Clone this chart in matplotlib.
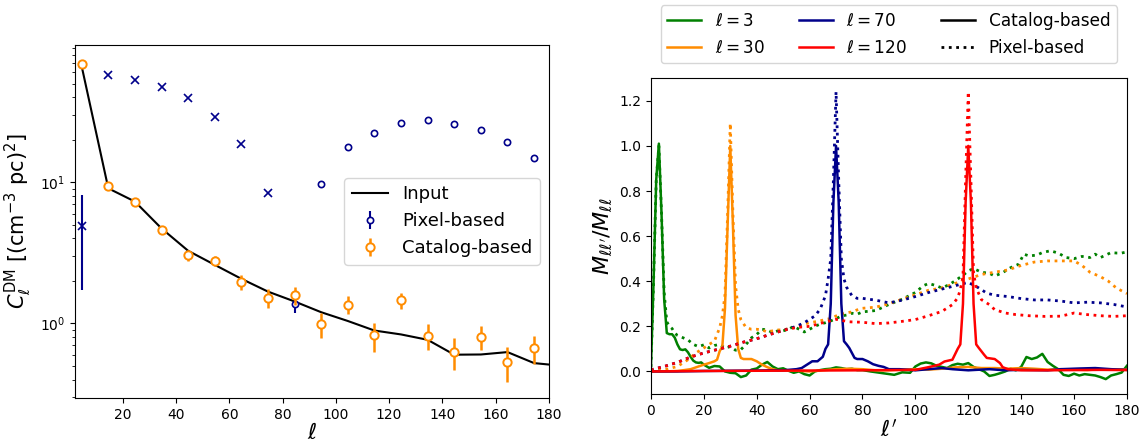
import matplotlib
matplotlib.use("Agg")
import matplotlib.pyplot as plt
from matplotlib.lines import Line2D
import numpy as np

# ---- left panel: angular power spectrum ----
ell_bins = [4.5, 14.5, 24.5, 34.5, 44.5, 54.5, 64.5, 74.5, 84.5, 94.5,
            104.5, 114.5, 124.5, 134.5, 144.5, 154.5, 164.5, 174.5]

input_ell = ell_bins + [180]
input_cl = [66.4, 9.06, 7.3, 4.71, 3.27, 2.6, 2.07, 1.68, 1.43, 1.20,
            1.04, 0.89, 0.835, 0.765, 0.60, 0.602, 0.626, 0.523, 0.511]

# negative values of the pixel-based estimate are drawn as crosses
pix_cl = [-4.92, -57.9, -53.1, -47.1, -39.3, -28.8, -18.6, -8.35, 1.38, 9.78,
          17.7, 22.4, 26.3, 27.7, 26.1, 23.3, 19.4, 14.9]
pix_err = [3.2, 0.5, 0.5, 0.5, 0.4, 0.3, 0.2, 0.1, 0.2, 0.1,
           0.2, 0.2, 0.3, 0.3, 0.3, 0.3, 0.2, 0.2]

cat_cl = [69.4, 9.47, 7.2, 4.61, 3.03, 2.79, 1.97, 1.52, 1.59, 0.984,
          1.36, 0.822, 1.457, 0.813, 0.626, 0.80, 0.534, 0.668]
cat_err = [0.5, 0.3, 0.3, 0.3, 0.26, 0.23, 0.25, 0.24, 0.23, 0.2,
           0.2, 0.19, 0.19, 0.17, 0.16, 0.155, 0.15, 0.15]

# ---- right panel: mixing-matrix rows ----
g_cat_x = [0, 1, 2, 3, 4, 5, 6, 7, 8, 9, 10, 11, 12, 13, 14, 15, 16, 17, 18, 19, 20,
           22, 24, 26, 28, 30, 32, 34, 36, 38, 40, 42, 44, 46, 48, 50, 52, 54, 56, 58,
           60, 62, 64, 66, 68, 70, 72, 74, 76, 78, 80, 83, 86, 89, 92, 95, 98, 100,
           102, 104, 106, 108, 110, 112, 114, 116, 118, 120, 122, 124, 126, 128, 130,
           132, 134, 136, 138, 140, 142, 144, 146, 148, 150, 152, 154, 156, 158, 160,
           162, 164, 166, 168, 170, 172, 174, 176, 178, 180]
g_cat_y = [0.02, 0.4, 0.85, 1.01, 0.7, 0.32, 0.17, 0.165, 0.165, 0.15, 0.12, 0.098,
           0.095, 0.098, 0.085, 0.065, 0.048, 0.04, 0.038, 0.04, 0.03,
           0.016, 0.024, 0.022, 0.0, -0.006, -0.008, -0.025, -0.018, 0.008, 0.013,
           0.03, 0.042, 0.022, 0.01, 0.014, 0.003, -0.006, 0.0, -0.012,
           -0.018, 0.0, 0.006, 0.01, 0.012, 0.018, 0.015, 0.01, 0.012, 0.006, 0.006,
           0.0, -0.005, -0.01, -0.015, -0.004, -0.006, 0.022,
           0.035, 0.04, 0.036, 0.025, 0.02, 0.015, 0.028, 0.034, 0.03, 0.037, 0.02,
           0.01, 0.0, -0.02, -0.015,
           -0.008, 0.0, 0.012, 0.005, 0.02, 0.064, 0.055, 0.062, 0.078, 0.042, 0.025,
           0.01, -0.015, -0.02, -0.01,
           -0.018, -0.012, -0.015, -0.018, -0.025, -0.034, -0.018, -0.012, -0.005, 0.025]

g_pix_x = [0, 1, 2, 3, 4, 5, 6, 7, 8, 9, 10, 12, 14, 16, 18, 20, 22, 24, 26, 28, 30,
           32, 34, 36, 38, 40, 42, 44, 46, 48, 50, 52, 54, 56, 58, 60, 62, 64, 66, 68,
           70, 72, 74, 76, 78, 80, 85, 90, 95, 100, 103, 105, 108, 110, 113, 116, 118,
           120, 122, 125, 128, 130, 133, 136, 139, 141, 143, 146, 148, 151, 154, 157,
           160, 163, 166, 168, 170, 172, 174, 176, 178, 180]
g_pix_y = [0.02, 0.4, 0.85, 1.0, 0.7, 0.35, 0.22, 0.2, 0.19, 0.17, 0.16, 0.15, 0.14,
           0.12, 0.11, 0.118, 0.104, 0.115, 0.12, 0.104, 0.11,
           0.094, 0.097, 0.12, 0.149, 0.164, 0.187, 0.184, 0.172, 0.18, 0.18, 0.187,
           0.2, 0.187, 0.175, 0.187, 0.2, 0.21, 0.216, 0.224,
           0.234, 0.246, 0.25, 0.258, 0.254, 0.264, 0.27, 0.297, 0.32, 0.35, 0.38, 0.39,
           0.38, 0.37, 0.386, 0.41, 0.426,
           0.446, 0.456, 0.44, 0.435, 0.423, 0.438, 0.46, 0.475, 0.52, 0.512, 0.516,
           0.527, 0.535, 0.525, 0.505,
           0.5, 0.51, 0.505, 0.52, 0.505, 0.516, 0.527, 0.525, 0.525, 0.53]

o_cat_x = [0, 5, 10, 12, 15, 18, 20, 22, 24, 25, 26, 27, 28, 29, 30, 31, 32, 33, 34,
           35, 36, 38, 40, 42, 44, 46, 48, 50, 55, 60, 65, 70, 75, 80, 85, 90, 95, 100,
           105, 110, 115, 120, 125, 130, 135, 140, 145, 150, 155, 160, 165, 170, 175, 180]
o_cat_y = [0.0, 0.0, 0.002, 0.005, 0.01, 0.022, 0.03, 0.037, 0.045, 0.052, 0.09, 0.11,
           0.28, 0.65, 1.0, 0.65, 0.25, 0.1, 0.06,
           0.055, 0.055, 0.055, 0.045, 0.03, 0.019, 0.01, 0.005, 0.005, 0.003, 0.0,
           0.005, 0.01, 0.012, 0.01, 0.005, 0.005, 0.008, 0.01,
           0.008, 0.012, 0.018, 0.02, 0.015, 0.015, 0.012, 0.015, 0.012, 0.008, 0.01,
           0.008, 0.006, 0.01, 0.008, 0.01]

o_pix_x = [0, 5, 10, 14, 17, 20, 22, 24, 26, 27, 28, 29, 30, 31, 32, 33, 34, 36, 38,
           40, 42, 44, 46, 48, 50, 52, 54, 56, 58, 60, 62, 64, 66, 68, 70, 72, 74, 76,
           78, 80, 85, 90, 95, 100, 105, 110, 115, 120, 125, 130, 135, 140, 145, 150,
           155, 160, 163, 166, 170, 173, 176, 180]
o_pix_y = [0.0, 0.007, 0.022, 0.052, 0.082, 0.104, 0.12, 0.134, 0.194, 0.246, 0.34,
           0.7, 1.10, 0.7, 0.38, 0.276, 0.23, 0.194, 0.187,
           0.187, 0.184, 0.175, 0.18, 0.184, 0.184, 0.19, 0.194, 0.2, 0.21, 0.216, 0.22,
           0.224, 0.231, 0.234, 0.246, 0.254, 0.26, 0.264,
           0.273, 0.28, 0.285, 0.3, 0.32, 0.34, 0.36, 0.37, 0.39, 0.41, 0.43, 0.44, 0.45,
           0.47, 0.485, 0.49,
           0.49, 0.49, 0.47, 0.44, 0.42, 0.40, 0.37, 0.345]

b_cat_x = [0, 10, 20, 30, 40, 45, 50, 52, 55, 57, 59, 61, 63, 64, 65, 66, 67, 68, 69,
           70, 71, 72, 73, 74, 75, 76, 77, 78, 80, 82, 84, 86, 88, 90, 94, 100, 105,
           110, 114, 120, 123, 128, 134, 140, 150, 155, 162, 168, 174, 180]
b_cat_y = [0.0, 0.0, 0.002, 0.003, 0.004, 0.005, 0.005, 0.007, 0.01, 0.015, 0.03,
           0.045, 0.045, 0.055, 0.065, 0.1, 0.12, 0.3, 0.75,
           1.0, 0.75, 0.3, 0.134, 0.12, 0.104, 0.082, 0.06, 0.055, 0.055, 0.045, 0.032,
           0.025, 0.02, 0.01, 0.01, 0.005, 0.01,
           0.015, 0.01, 0.005, 0.007, 0.01, 0.005, 0.007, 0.005, 0.01, 0.013, 0.015,
           0.01, 0.007]

b_pix_x = [0, 5, 10, 15, 20, 25, 30, 35, 40, 45, 50, 55, 58, 60, 62, 64, 66, 67, 68,
           69, 70, 71, 72, 73, 74, 76, 78, 80, 85, 90, 95, 100, 105, 110, 115, 120,
           124, 127, 130, 135, 140, 145, 150, 155, 160, 165, 170, 175, 180]
b_pix_y = [0.007, 0.022, 0.04, 0.064, 0.082, 0.097, 0.112, 0.13, 0.145, 0.164, 0.182,
           0.2, 0.216, 0.231, 0.246, 0.276, 0.336, 0.41, 0.5,
           0.85, 1.24, 0.85, 0.5, 0.41, 0.373, 0.336, 0.324, 0.324, 0.316, 0.304, 0.316,
           0.332, 0.35, 0.365, 0.38, 0.395,
           0.37, 0.347, 0.338, 0.332, 0.323, 0.317, 0.317, 0.312, 0.304, 0.307, 0.304,
           0.297, 0.286]

r_cat_x = [0, 20, 40, 60, 80, 100, 105, 109, 111, 114, 116, 117, 118, 119, 120, 121,
           122, 123, 124, 126, 127, 130, 132, 133, 135, 140, 150, 160, 170, 180]
r_cat_y = [0.0, 0.002, 0.003, 0.004, 0.005, 0.007, 0.019, 0.03, 0.044, 0.052, 0.1,
           0.12, 0.3, 0.75, 1.0, 0.75,
           0.3, 0.12, 0.104, 0.074, 0.06, 0.055, 0.037, 0.019, 0.01, 0.005, 0.005,
           0.006, 0.007, 0.006]

r_pix_x = [0, 5, 10, 15, 20, 25, 30, 35, 40, 45, 50, 55, 60, 65, 70, 75, 80, 85, 90,
           95, 100, 105, 110, 114, 116, 117, 118, 119, 120, 121, 122, 123, 125, 128,
           130, 134, 138, 143, 149, 155, 160, 165, 170, 175, 180]
r_pix_y = [0.007, 0.022, 0.04, 0.064, 0.082, 0.097, 0.112, 0.13, 0.145, 0.164, 0.182,
           0.195, 0.2, 0.216, 0.231, 0.22, 0.218, 0.212, 0.215,
           0.222, 0.23, 0.247, 0.266, 0.296, 0.326, 0.363, 0.42, 0.85, 1.24, 0.85,
           0.437, 0.37, 0.318, 0.296,
           0.274, 0.259, 0.252, 0.247, 0.244, 0.245, 0.259, 0.252, 0.247, 0.244, 0.247]

C_BLUE = "darkblue"
C_ORANGE = "darkorange"

fig = plt.figure(figsize=(11.42, 4.41), dpi=100)
ax1 = fig.add_axes([0.0657, 0.098, 0.4148, 0.80])
ax2 = fig.add_axes([0.570, 0.1066, 0.4168, 0.716])

# left
ax1.plot(input_ell, input_cl, color="k", lw=1.5, label="Input", zorder=3)

pix = np.array(pix_cl)
ell = np.array(ell_bins)
perr = np.array(pix_err)
pos = pix > 0
ax1.errorbar(ell[pos], pix[pos], yerr=perr[pos], fmt="o", ms=4.5, mfc="white",
             mec=C_BLUE, mew=1.2, color=C_BLUE, elinewidth=1.5, label="Pixel-based",
             zorder=4)
ax1.errorbar(ell[~pos], -pix[~pos], yerr=perr[~pos], fmt="x", ms=6, mew=1.2,
             color=C_BLUE, elinewidth=1.5, zorder=4)
ax1.errorbar(ell_bins, cat_cl, yerr=cat_err, fmt="o", ms=6, mfc="white",
             mec=C_ORANGE, mew=1.4, color=C_ORANGE, elinewidth=1.8,
             label="Catalog-based", zorder=5)

ax1.set_yscale("log")
ax1.set_xlim(2, 180)
ax1.set_ylim(0.297, 94)
ax1.set_xticks([20, 40, 60, 80, 100, 120, 140, 160, 180])
ax1.tick_params(labelsize=10)
ax1.set_xlabel(r"$\ell$", fontsize=16, labelpad=1)
ax1.set_ylabel(r"$C_\ell^{\rm DM}$ [(cm$^{-3}$ pc)$^2$]", fontsize=15)
ax1.legend(loc="center right", fontsize=13)

# right
curves = [
    ("green", r"$\ell = 3$", g_cat_x, g_cat_y, g_pix_x, g_pix_y),
    (C_ORANGE, r"$\ell = 30$", o_cat_x, o_cat_y, o_pix_x, o_pix_y),
    (C_BLUE, r"$\ell = 70$", b_cat_x, b_cat_y, b_pix_x, b_pix_y),
    ("red", r"$\ell = 120$", r_cat_x, r_cat_y, r_pix_x, r_pix_y),
]
handles = []
for col, lab, cx, cy, px, py in curves:
    ax2.plot(px, py, ls=":", color=col, lw=2)
    ax2.plot(cx, cy, ls="-", color=col, lw=1.8)
    handles.append(Line2D([], [], color=col, lw=1.8, label=lab))
handles.append(Line2D([], [], color="k", lw=1.8, label="Catalog-based"))
handles.append(Line2D([], [], color="k", lw=2, ls=":", label="Pixel-based"))

ax2.set_xlim(0, 180)
ax2.set_ylim(-0.1, 1.3)
ax2.set_xticks(range(0, 181, 20))
ax2.set_yticks([0.0, 0.2, 0.4, 0.6, 0.8, 1.0, 1.2])
ax2.tick_params(labelsize=10)
ax2.set_xlabel(r"$\ell^\prime$", fontsize=16, labelpad=1)
ax2.set_ylabel(r"$M_{\ell\ell^\prime}/M_{\ell\ell}$", fontsize=16)
ax2.legend(handles=handles, ncol=3, loc="lower center", bbox_to_anchor=(0.5, 1.02),
           fontsize=12.2)

fig.savefig("out.png", dpi=100)
